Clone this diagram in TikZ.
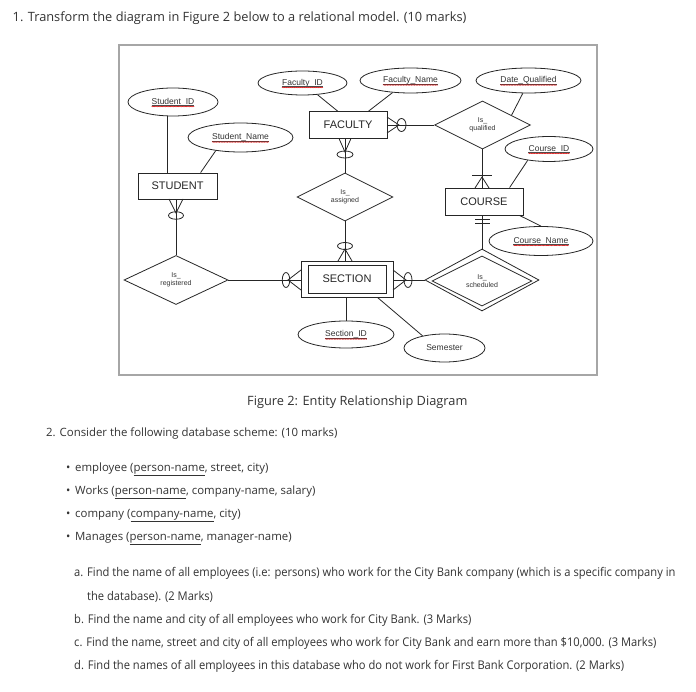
\documentclass[tikz,border=0pt]{standalone}
\usepackage{fontspec}
\setmainfont{Open Sans}
\newfontfamily\arialf{Liberation Sans}
\newfontfamily\condfont[FakeStretch=0.93]{Open Sans}
\usetikzlibrary{shapes.geometric,calc,decorations.pathmorphing}

\newcommand\keyattr[5]{%
  \node[attrs, minimum width=#3, minimum height=#4] (#1) at #2 {};
  \node[attrtext] (#1t) at (#1) {#5};
  \draw[black!70, line width=0.35pt] ($(#1t.base west)+(0,1.2)$) -- ($(#1t.base east)+(0,1.2)$);
  \draw[red!85!black, line width=0.4pt, decorate, decoration={snake, amplitude=0.35pt, segment length=1.6pt}] ($(#1t.base west)+(0,2.3)$) -- ($(#1t.base east)+(0,2.3)$);
}

\begin{document}
\begin{tikzpicture}[x=1pt,y=-1pt,
  ent/.style={draw=black!85, line width=0.8pt, rectangle, inner sep=0pt, font=\arialf\fontsize{11}{12}\selectfont, text=black!85},
  attrs/.style={draw=black!85, line width=0.8pt, ellipse, inner sep=0pt},
  attrtext/.style={inner sep=0pt, font=\arialf\fontsize{8.5}{9}\selectfont, text=black!80},
  rel/.style={draw=black!85, line width=0.8pt, diamond, inner sep=0pt, font=\arialf\fontsize{7}{8}\selectfont, align=center, text=black!80},
  conn/.style={draw=black!85, line width=0.8pt},
  card/.style={draw=black!85, line width=0.8pt, ellipse, inner sep=0pt},
  body/.style={inner sep=0pt, anchor=base west, text=black!80, font=\fontsize{11.4}{14}\selectfont},
  bigbody/.style={body, font=\fontsize{12.8}{15}\selectfont},
  listbody/.style={body, font=\condfont\fontsize{12}{14}\selectfont},
]
\path[fill=white] (0,0) rectangle (696,692);
\useasboundingbox (0,0) rectangle (696,692);

% frame
\node[draw=black!35, line width=1.2pt, minimum width=478, minimum height=330, inner sep=0pt] (frame) at (358,210) {};

% entities
\node[ent, minimum width=78, minimum height=27] (faculty) at (348,125) {FACULTY};
\node[ent, minimum width=79, minimum height=26] (student) at (177.5,186) {STUDENT};
\node[ent, minimum width=78, minimum height=27] (course) at (484,201.5) {COURSE};
\node[ent, minimum width=92, minimum height=36] (section) at (347,279) {};
\node[ent, minimum width=78, minimum height=28] (sectionin) at (347,279) {SECTION};

% attributes
\keyattr{sid}{(173,102)}{90}{28}{Student\_ID}
\keyattr{sname}{(240.5,137.5)}{105}{29}{Student\_Name}
\keyattr{fid}{(302.5,83)}{89}{24}{Faculty\_ID}
\keyattr{fname}{(410.5,80.5)}{101}{25}{Faculty\_Name}
\keyattr{dq}{(528.5,80.5)}{105}{25}{Date\_Qualified}
\keyattr{cid}{(549,149)}{88}{25}{Course\_ID}
\keyattr{cname}{(541,241)}{104}{29}{Course\_Name}
\keyattr{secid}{(346,334.5)}{96}{27}{Section\_ID}
\node[attrs, minimum width=81, minimum height=28, font=\arialf\fontsize{8.5}{9}\selectfont, text=black!80] (sem) at (444.5,348) {Semester};

% relationships
\node[rel, minimum width=96, minimum height=48] (isq) at (482.5,125) {Is\_\\qualified};
\node[rel, minimum width=96, minimum height=48] (isa) at (345,197) {Is\_\\assigned};
\node[rel, minimum width=104, minimum height=49] (isr) at (176,280) {Is\_\\registered};
\node[rel, minimum width=114, minimum height=62] (iss) at (482,280) {};
\node[rel, minimum width=100, minimum height=50] (issin) at (482,281) {Is\_\\scheduled};

% attribute connectors
\draw[conn] (sid.-110) -- (sid.-110 |- student.north);
\draw[conn] (sname.-152) -- ($(student.north west)+(63,0)$);
\draw[conn] (fid.-38) -- ($(faculty.north west)+(29,0)$);
\draw[conn] (fname.-146) -- ($(faculty.north west)+(60,0)$);
\draw[conn] (dq.-114) -- ($(isq.north)!0.6!(isq.east)$);
\draw[conn] (cid.-152) -- ($(course.north west)+(65,0)$);
\draw[conn] ($(course.south east)+(-4,0)$) -- (cname.north);
\draw[conn] (section.south -| secid.north) -- (secid.north);
\draw[conn] ($(section.south east)+(-16,0)$) -- (sem.151);

% relationship connectors
\draw[conn] (isr.north |- student.south) -- (isr.north);
\draw[conn] (isa.north |- faculty.south) -- (isa.north);
\draw[conn] (faculty.east |- isq.west) -- (isq.west);
\draw[conn] (isa.south) -- (isa.south |- section.north);
\draw[conn] (isr.east) -- (section.west |- isr.east);
\draw[conn] (section.east |- iss.west) -- (iss.west);
\draw[conn] (isq.south) -- (isq.south |- course.north);
\draw[conn] (iss.north |- course.south) -- (iss.north);

% crow's feet and cardinality marks
% STUDENT bottom
\draw[conn] (169,199) -- (176,213) -- (183,199);
\node[card, minimum width=15, minimum height=7.5] (c1) at (176,215.5) {};
% FACULTY bottom
\draw[conn] (339,138.5) -- (345,152) -- (351,138.5);
\node[card, minimum width=16, minimum height=7] (c2) at (345,154.5) {};
% FACULTY right
\draw[conn] (387,117) -- (399,125) -- (387,133);
\node[card, minimum width=9, minimum height=13] (c3) at (401.5,125) {};
% SECTION top
\draw[conn] (338,261) -- (345,249) -- (352,261);
\node[card, minimum width=15, minimum height=7] (c4) at (345,246) {};
% SECTION left
\draw[conn] (301,270) -- (288,280) -- (301,290);
\node[card, minimum width=7.5, minimum height=15] (c5) at (286,280) {};
% SECTION right
\draw[conn] (393,270) -- (406,280) -- (393,290);
\node[card, minimum width=8, minimum height=15] (c6) at (408,280) {};
% COURSE top
\draw[conn] (475,188) -- (482,177) -- (489,188);
\draw[conn] (472,175) -- (492,175);
% COURSE bottom
\draw[conn] (475,219) -- (490,219);
\draw[conn] (475,223) -- (490,223);

% texts
\node[bigbody] (title) at (12.5,22) {1. Transform the diagram in Figure 2 below to a relational model. (10 marks)};
\node[bigbody] (caption) at (247,406) {Figure 2: Entity Relationship Diagram};
\node[body] (q2) at (46,436) {2. Consider the following database scheme: (10 marks)};
\node[body] (b1m) at (66,471) {•};
\node[body] (b1) at (75,471) {employee (\underline{person-name}, street, city)};
\node[body] (b2m) at (66,494) {•};
\node[body] (b2) at (75,494) {Works (\underline{person-name}, company-name, salary)};
\node[body] (b3m) at (66,517) {•};
\node[body] (b3) at (75,517) {company (\underline{company-name}, city)};
\node[body] (b4m) at (66,540) {•};
\node[body] (b4) at (75,540) {Manages (\underline{person-name}, manager-name)};

\node[listbody] (qa) at (74,576) {a. Find the name of all employees (i.e: persons) who work for the City Bank company (which is a specific company in};
\node[listbody] (qa2) at (87,600) {the database). (2 Marks)};
\node[listbody] (qb) at (74,623) {b. Find the name and city of all employees who work for City Bank. (3 Marks)};
\node[listbody] (qc) at (74,646) {c. Find the name, street and city of all employees who work for City Bank and earn more than \$10,000. (3 Marks)};
\node[listbody] (qd) at (74,669) {d. Find the names of all employees in this database who do not work for First Bank Corporation. (2 Marks)};
\end{tikzpicture}
\end{document}
